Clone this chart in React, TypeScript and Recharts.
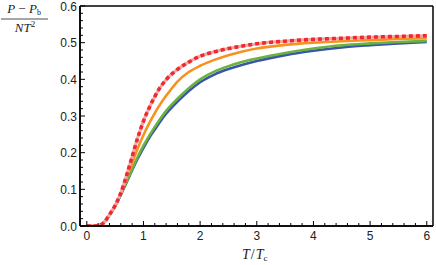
import { Line, LineChart, XAxis, YAxis } from 'recharts';

const temps = [0, 0.1, 0.2, 0.3, 0.4, 0.5, 0.6, 0.7, 0.8, 0.9, 1.0, 1.1, 1.2, 1.3, 1.4, 1.6, 1.8, 2.0, 2.25, 2.5, 2.75, 3.0, 3.5, 4.0, 4.5, 5.0, 5.5, 6.0];
const blueVals = [0, 0, 0.001, 0.009, 0.03, 0.054, 0.085, 0.118, 0.152, 0.184, 0.213, 0.24, 0.263, 0.286, 0.306, 0.339, 0.368, 0.392, 0.413, 0.428, 0.44, 0.45, 0.466, 0.478, 0.487, 0.493, 0.498, 0.502];
const greenVals = [0, 0, 0.001, 0.009, 0.03, 0.054, 0.086, 0.12, 0.155, 0.189, 0.219, 0.246, 0.27, 0.293, 0.314, 0.347, 0.376, 0.4, 0.421, 0.436, 0.448, 0.457, 0.472, 0.484, 0.493, 0.498, 0.502, 0.505];
const orangeVals = [0, 0, 0.001, 0.009, 0.03, 0.055, 0.088, 0.13, 0.172, 0.212, 0.248, 0.28, 0.308, 0.333, 0.355, 0.394, 0.42, 0.437, 0.453, 0.466, 0.476, 0.484, 0.494, 0.5, 0.504, 0.507, 0.51, 0.512];
const redVals = [0, 0, 0.001, 0.009, 0.031, 0.056, 0.09, 0.137, 0.189, 0.241, 0.286, 0.322, 0.353, 0.379, 0.399, 0.427, 0.447, 0.463, 0.475, 0.484, 0.491, 0.497, 0.504, 0.509, 0.512, 0.515, 0.517, 0.519];

const xMajor = [0, 1, 2, 3, 4, 5, 6];
const yMajor = [0, 0.1, 0.2, 0.3, 0.4, 0.5, 0.6];
const yLabels = ['0.0', '0.1', '0.2', '0.3', '0.4', '0.5', '0.6'];

const X_DOMAIN: [number, number] = [-0.12, 6.11];
const Y_DOMAIN: [number, number] = [0, 0.6];

// plot box (chart margins + axis sizes)
const W = 436;
const H = 265;
const M = { top: 6, right: 3, bottom: 18, left: 0 };
const Y_AXIS_W = 80;
const X_AXIS_H = 21;
const PLOT = {
  left: M.left + Y_AXIS_W,
  top: M.top,
  right: W - M.right,
  bottom: H - M.bottom - X_AXIS_H,
};

const data = temps.map((t, i) => ({
  t,
  blue: blueVals[i],
  green: greenVals[i],
  orange: orangeVals[i],
  red: redVals[i],
}));

// 4 minor ticks between majors
const withMinors = (majors: number[]) => {
  const out: number[] = [];
  for (let i = 0; i < majors.length; i++) {
    out.push(majors[i]);
    if (i < majors.length - 1) {
      const step = (majors[i + 1] - majors[i]) / 5;
      for (let k = 1; k < 5; k++) out.push(+(majors[i] + k * step).toFixed(4));
    }
  }
  return out;
};
const xTicks = withMinors(xMajor);
const yTicks = withMinors(yMajor);

const isXMajor = (v: number) => xMajor.some((m) => Math.abs(m - v) < 1e-6);
const yMajorIndex = (v: number) => yMajor.findIndex((m) => Math.abs(m - v) < 1e-6);

const FRAME = '#000';
const TICK_FONT = 'Liberation Sans, Arial, sans-serif';
const MATH_FONT = "'Liberation Serif', 'DejaVu Serif', serif";

const BottomTick = ({ x, y, payload }: any) => {
  const major = isXMajor(payload.value);
  return (
    <g>
      <line x1={x} y1={y} x2={x} y2={y - (major ? 5 : 3)} stroke={FRAME} strokeWidth={1} />
      {major && (
        <text x={x} y={y + 14} textAnchor="middle" style={{ fontSize: 12, fontFamily: TICK_FONT }} fill="#222">
          {payload.value}
        </text>
      )}
    </g>
  );
};

const TopTick = ({ x, y, payload }: any) => {
  const major = isXMajor(payload.value);
  return <line x1={x} y1={y} x2={x} y2={y + (major ? 5 : 3)} stroke={FRAME} strokeWidth={1} />;
};

const LeftTick = ({ x, y, payload }: any) => {
  const idx = yMajorIndex(payload.value);
  const major = idx >= 0;
  return (
    <g>
      <line x1={x} y1={y} x2={x + (major ? 5 : 3)} y2={y} stroke={FRAME} strokeWidth={1} />
      {major && (
        <text x={x - 3} y={y + 4.5} textAnchor="end" style={{ fontSize: 12, fontFamily: TICK_FONT }} fill="#222">
          {yLabels[idx]}
        </text>
      )}
    </g>
  );
};

const RightTick = ({ x, y, payload }: any) => {
  const major = yMajorIndex(payload.value) >= 0;
  return <line x1={x} y1={y} x2={x - (major ? 5 : 3)} y2={y} stroke={FRAME} strokeWidth={1} />;
};

const frameStyle = { stroke: FRAME, strokeWidth: 1.5 };

export default function App() {
  return (
    <div style={{ position: 'absolute', left: 0, top: 0, width: W, height: H, background: '#fff' }}>
      <LineChart width={W} height={H} data={data} margin={M}>
        <XAxis
          xAxisId="b"
          dataKey="t"
          type="number"
          domain={X_DOMAIN}
          allowDataOverflow
          ticks={xTicks}
          interval={0}
          tickSize={0}
          tickMargin={0}
          height={X_AXIS_H}
          tick={<BottomTick />}
          axisLine={frameStyle}
          tickLine={false}
        />
        <XAxis
          xAxisId="t"
          orientation="top"
          dataKey="t"
          type="number"
          domain={X_DOMAIN}
          allowDataOverflow
          ticks={xTicks}
          interval={0}
          tickSize={0}
          tickMargin={0}
          height={0}
          tick={<TopTick />}
          axisLine={frameStyle}
          tickLine={false}
        />
        <YAxis
          yAxisId="l"
          type="number"
          domain={Y_DOMAIN}
          allowDataOverflow
          ticks={yTicks}
          interval={0}
          tickSize={0}
          tickMargin={0}
          width={Y_AXIS_W}
          tick={<LeftTick />}
          axisLine={frameStyle}
          tickLine={false}
        />
        <YAxis
          yAxisId="r"
          orientation="right"
          type="number"
          domain={Y_DOMAIN}
          allowDataOverflow
          ticks={yTicks}
          interval={0}
          tickSize={0}
          tickMargin={0}
          width={0}
          tick={<RightTick />}
          axisLine={frameStyle}
          tickLine={false}
        />
        <Line xAxisId="b" yAxisId="l" type="monotone" dataKey="blue" stroke="#3a56a6" strokeWidth={2.6} dot={false} isAnimationActive={false} />
        <Line xAxisId="b" yAxisId="l" type="monotone" dataKey="green" stroke="#6cb23e" strokeWidth={2.6} dot={false} isAnimationActive={false} />
        <Line xAxisId="b" yAxisId="l" type="monotone" dataKey="orange" stroke="#f7911f" strokeWidth={2.6} dot={false} isAnimationActive={false} />
        <Line xAxisId="b" yAxisId="l" type="monotone" dataKey="red" stroke="#f4a3a6" strokeWidth={3} dot={false} isAnimationActive={false} />
        <Line xAxisId="b" yAxisId="l" type="monotone" dataKey="red" stroke="#ee2a2e" strokeWidth={3.6} strokeDasharray="4 3" dot={false} isAnimationActive={false} />
      </LineChart>
      <svg width={W} height={H} style={{ position: 'absolute', left: 0, top: 0, pointerEvents: 'none' }}>
        <line x1={PLOT.left} x2={PLOT.right} y1={PLOT.top} y2={PLOT.top} {...frameStyle} />
        <line x1={PLOT.left} x2={PLOT.right} y1={PLOT.bottom} y2={PLOT.bottom} {...frameStyle} />
        <line x1={PLOT.left} x2={PLOT.left} y1={PLOT.top} y2={PLOT.bottom} {...frameStyle} />
        <line x1={PLOT.right} x2={PLOT.right} y1={PLOT.top} y2={PLOT.bottom} {...frameStyle} />
        <text x={24} y={13} textAnchor="middle" fontFamily={MATH_FONT} fontSize={13} fill="#222">
          <tspan fontStyle="italic">P</tspan>
          <tspan> − </tspan>
          <tspan fontStyle="italic">P</tspan>
          <tspan fontSize={8} dy={2}>b</tspan>
        </text>
        <line x1={1} x2={48} y1={19} y2={19} stroke="#222" strokeWidth={0.8} />
        <text x={25} y={32} textAnchor="middle" fontFamily={MATH_FONT} fontSize={13} fill="#222">
          <tspan fontStyle="italic">NT</tspan>
          <tspan fontSize={9} dy={-5}>2</tspan>
        </text>
        <text x={242} y={259} fontFamily={MATH_FONT} fontSize={14} fill="#222">
          <tspan fontStyle="italic">T</tspan>
          <tspan dx={1}>/</tspan>
          <tspan fontStyle="italic" dx={1}>T</tspan>
          <tspan fontSize={9} dy={2}>c</tspan>
        </text>
      </svg>
    </div>
  );
}
